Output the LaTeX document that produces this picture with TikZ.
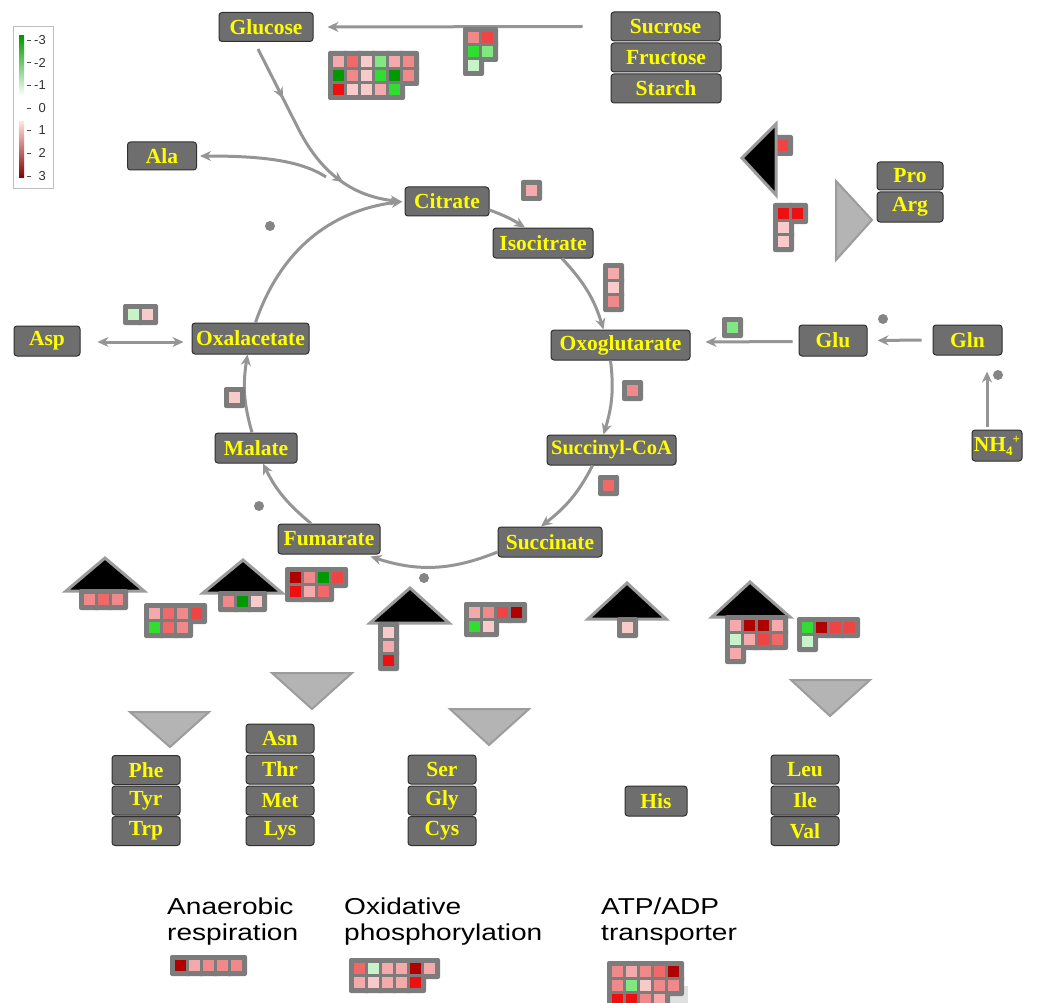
\documentclass[tikz,border=0pt]{standalone}
\usepackage{fontspec}
\setmainfont{Liberation Serif}
\newfontfamily\lsans{Liberation Sans}
\newfontfamily\lsanswide[FakeStretch=1.22]{Liberation Sans}
\usetikzlibrary{arrows.meta,calc,decorations.markings}
\definecolor{nodegray}{HTML}{6E6E6E}
\definecolor{nodeedge}{HTML}{303030}
\definecolor{txtyellow}{HTML}{FFFF00}
\definecolor{linegray}{HTML}{959595}
\definecolor{boxgray}{HTML}{7C7C7C}
\definecolor{trigray}{HTML}{B4B4B4}
\definecolor{triedge}{HTML}{9C9C9C}
\definecolor{dotgray}{HTML}{858585}
\definecolor{eDR}{HTML}{B00000}
\definecolor{eR}{HTML}{EE1010}
\definecolor{eRt}{HTML}{F04444}
\definecolor{ePR}{HTML}{F06868}
\definecolor{eP}{HTML}{F08A8A}
\definecolor{eLP}{HTML}{F4AAAA}
\definecolor{eVLP}{HTML}{F8CACA}
\definecolor{eDG}{HTML}{009A00}
\definecolor{eG}{HTML}{30DD30}
\definecolor{eLG}{HTML}{80E880}
\definecolor{eVLG}{HTML}{C8F2C8}
\newcommand{\egrid}[3]{%
  \foreach \erow [count=\ei from 0] in {#3} {%
    \foreach \ecol [count=\ej from 0] in \erow {%
      \fill[boxgray, rounded corners=2pt] ({#1+\ej*14},{-#2-\ei*14}) rectangle ++(21,-21);
    }%
  }%
  \foreach \erow [count=\ei from 0] in {#3} {%
    \foreach \ecol [count=\ej from 0] in \erow {%
      \fill[\ecol] ({#1+5+\ej*14},{-#2-5-\ei*14}) rectangle ++(11,-11);
    }%
  }%
}
\tikzset{
  met/.style={draw=nodeedge, fill=nodegray, rounded corners=3pt, line width=1pt,
    text=txtyellow, font=\bfseries\fontsize{21.5}{24}\selectfont, inner sep=0pt,
    minimum height=29pt, minimum width=68pt},
  flow/.style={draw=linegray, line width=3pt, -{Stealth[length=11pt,width=10pt]}},
  midarrow/.style={postaction={decorate, decoration={markings,
    mark=at position #1 with {\arrow{Stealth[length=11pt,width=10pt]}}}}},
  blacktri/.style={fill=black, draw=triedge, line width=3pt},
  graytri/.style={fill=trigray, draw=triedge, line width=2pt},
  dotnode/.style={circle, fill=dotgray, inner sep=0pt, minimum size=10pt},
  legtext/.style={font=\lsanswide\fontsize{23}{26}\selectfont, align=left, inner sep=0pt, anchor=north west},
  ticklab/.style={font=\lsans\fontsize{13}{13}\selectfont, text=black!80, inner sep=0pt, anchor=east}
}
\begin{document}
\begin{tikzpicture}[x=1pt,y=1pt]
\useasboundingbox (0,0) rectangle (1057,-1003);
\fill[white] (0,0) rectangle (1057,-1003);

% colour scale
\draw[black!25, line width=0.8pt] (13,-26) rectangle (53,-188);
\shade[top color=eDG, bottom color=white] (19,-36) rectangle (24,-96);
\shade[top color=red!12, middle color=red!90!black, bottom color=red!50!black] (19,-122) rectangle (24,-178);
\foreach \v/\yy [count=\i] in {-3/40,-2/62.5,-1/85,0/108,1/130.5,2/153,3/176} {
  \draw[black!70, line width=0.8pt] (27,-\yy) -- (31,-\yy);
  \node[ticklab] (tick\i) at (46,-\yy) {\v};
}

% metabolite nodes
\node[met, minimum width=94pt] (glucose) at (266,-27) {Glucose};
\node[met, minimum width=109pt] (sucrose) at (665.5,-26.5) {Sucrose};
\node[met, minimum width=110pt] (fructose) at (666,-57.5) {Fructose};
\node[met, minimum width=110pt] (starch) at (666,-88.5) {Starch};
\node[met, minimum width=69pt, minimum height=28pt] (ala) at (162,-156) {Ala};
\node[met, minimum width=84pt] (citrate) at (447,-201.5) {Citrate};
\node[met, minimum width=100pt, minimum height=30pt] (isocitrate) at (543,-243) {Isocitrate};
\node[met, minimum width=139pt, minimum height=30pt] (oxo) at (620.5,-345) {Oxoglutarate};
\node[met, minimum width=129pt, minimum height=30pt, font=\bfseries\fontsize{20.5}{24}\selectfont] (succ) at (611.5,-450) {Succinyl-CoA};
\node[met, minimum width=104pt, minimum height=30pt] (succinate) at (550,-542) {Succinate};
\node[met, minimum width=102pt, minimum height=30pt] (fumarate) at (329,-539) {Fumarate};
\node[met, minimum width=82pt, minimum height=30pt] (malate) at (256,-448) {Malate};
\node[met, minimum width=117pt, minimum height=31pt] (oxal) at (250.5,-338.5) {Oxalacetate};
\node[met, minimum width=66pt, minimum height=30pt] (asp) at (47,-341) {Asp};
\node[met, minimum width=68pt, minimum height=31pt] (glu) at (833,-340.5) {Glu};
\node[met, minimum width=69pt, minimum height=30pt] (gln) at (967.5,-340) {Gln};
\node[met, minimum width=50pt, minimum height=31pt] (nh4) at (997,-445.5)
  {NH\raisebox{-4pt}{\fontsize{13}{13}\selectfont 4}\raisebox{8pt}{\fontsize{13}{13}\selectfont +}};
\node[met, minimum width=66pt, minimum height=28pt] (pro) at (910,-176) {Pro};
\node[met, minimum width=66pt, minimum height=30pt] (arg) at (910,-207) {Arg};
\node[met] (phe) at (146,-770) {Phe};
\node[met] (tyr) at (146,-800.5) {Tyr};
\node[met] (trp) at (146,-831) {Trp};
\node[met] (asn) at (280,-738.5) {Asn};
\node[met] (thr) at (280,-769.5) {Thr};
\node[met] (metn) at (280,-800.5) {Met};
\node[met] (lys) at (280,-831) {Lys};
\node[met] (ser) at (442,-769.5) {Ser};
\node[met] (gly) at (442,-800.5) {Gly};
\node[met] (cys) at (442,-831) {Cys};
\node[met, minimum width=62pt, minimum height=30pt] (his) at (656,-801) {His};
\node[met] (leu) at (805,-769.5) {Leu};
\node[met] (ile) at (805,-800.5) {Ile};
\node[met] (val) at (805,-831) {Val};

% connectors
\coordinate (gbend) at (298,-128);
\coordinate (alam) at (326,-177);
\draw[flow, midarrow=0.25, midarrow=0.72] ($(glucose.south)+(-8,-7)$) -- (gbend)
  .. controls (316,-164) and (345,-196) .. ($(citrate.west)+(-3,0)$);
\draw[flow] (alam) .. controls (300,-160) and (260,-156) .. ($(ala.east)+(3,0)$);
\draw[flow] ($(sucrose.west)+(-28,0)$) -- ($(glucose.east)+(14,0)$);
\draw[flow] ($(oxal.north)+(5,0)$) to[out=71,in=187] ($(citrate.west)+(-2,0)$);
\draw[flow] ($(citrate.east)+(0,-8.5)$) to[out=-20,in=148] ($(isocitrate.north)+(-18,0)$);
\draw[flow] ($(isocitrate.south)+(19,0)$) to[out=-47,in=107] ($(oxo.north)+(-17,0)$);
\draw[flow] ($(oxo.south)+(-10,0)$) to[out=-83,in=73] ($(succ.north)+(-8,0)$);
\draw[flow] ($(succ.south)+(-19,0)$) to[out=-117,in=38] ($(succinate.north)+(-9,0)$);
\draw[flow] ($(succinate.west)+(0,-10)$) to[out=202,in=-18] ($(fumarate.south east)+(-10,-2)$);
\draw[flow] ($(fumarate.north)+(-18,0)$) to[out=140,in=-64] ($(malate.south)+(7,0)$);
\draw[flow] ($(malate.north)+(-4,0)$) to[out=106,in=-99] ($(oxal.south)+(-3,0)$);
\draw[flow, {Stealth[length=11pt,width=10pt]}-{Stealth[length=11pt,width=10pt]}]
  ($(asp.east)+(17,-1)$) -- ($(oxal.west)+(-8,-3.5)$);
\draw[flow] ($(glu.west)+(-6,-1)$) -- ($(oxo.east)+(15,3)$);
\draw[flow] ($(gln.west)+(-11,0)$) -- ($(glu.east)+(10,0)$);
\draw[flow] ($(nh4.north)+(-10,3)$) -- ($(nh4.north)+(-10,58)$);

% dots
\node[dotnode] (dot1) at (270,-226) {};
\node[dotnode] (dot2) at (259,-506) {};
\node[dotnode] (dot3) at (424,-578) {};
\node[dotnode] (dot4) at (883,-319) {};
\node[dotnode] (dot5) at (998,-375) {};

% enzyme grids in the pathway
\egrid{328}{51}{{eLP,ePR,eVLP,eLG,eLP,eP},{eDG,eP,eVLP,eG,eDG,eP},{eR,eVLP,eVLP,eLP,eG}}
\egrid{463}{27}{{eP,eRt},{eG,eLG},{eVLG}}
\egrid{521}{180}{{eLP}}
\egrid{603}{263}{{eLP},{eVLP},{eP}}
\egrid{622}{380}{{eP}}
\egrid{598}{475}{{ePR}}
\egrid{224}{387}{{eVLP}}
\egrid{722}{317}{{eLG}}
\egrid{123}{304}{{eVLG,eVLP}}

% Pro / Arg area
\egrid{772}{135}{{eRt}}
\draw[blacktri] (742,-158) -- (776,-124) -- (776,-195) -- cycle;
\egrid{773}{203}{{eR,eR},{eVLP},{eVLP}}
\draw[graytri] (836,-181) -- (872,-220) -- (836,-260) -- cycle;

% bottom: houses and grids
\draw[blacktri] (66,-591) -- (144,-591) -- (105,-558) -- cycle;
\egrid{79}{589}{{eP,ePR,eP}}
\egrid{144}{603}{{eLP,ePR,eP,eRt},{eG,ePR,eP}}
\draw[blacktri] (203,-593) -- (282,-593) -- (243,-560) -- cycle;
\egrid{218}{591}{{eP,eDG,eVLP}}
\egrid{285}{567}{{eDR,eP,eDG,eRt},{eR,eLP,ePR}}
\draw[blacktri] (370,-623) -- (449,-623) -- (410,-588) -- cycle;
\egrid{378}{622}{{eVLP},{eLP},{eR}}
\egrid{464}{602}{{eLP,eP,eRt,eDR},{eG,eVLP}}
\draw[blacktri] (588,-619) -- (666,-619) -- (627,-583) -- cycle;
\egrid{617}{617}{{eVLP}}
\draw[blacktri] (712,-617) -- (790,-617) -- (750,-582) -- cycle;
\egrid{725}{615}{{eLP,eDR,eDR,eLP},{eVLG,eLP,eRt,ePR},{eLP}}
\egrid{797}{617}{{eG,eDR,eRt,eRt},{eVLG}}

% gray down triangles
\draw[graytri] (130,-712) -- (209,-712) -- (170,-747) -- cycle;
\draw[graytri] (272,-673) -- (352,-673) -- (312,-709) -- cycle;
\draw[graytri] (450,-709) -- (529,-709) -- (489,-745) -- cycle;
\draw[graytri] (791,-680) -- (870,-680) -- (830,-716) -- cycle;

% bottom legend
\node[legtext] (tanaer) at (167,-898) {Anaerobic\\respiration};
\node[legtext] (toxid) at (344,-898) {Oxidative\\phosphorylation};
\node[legtext] (tatp) at (601,-898) {ATP/ADP\\transporter};
\egrid{170}{955}{{eDR,eLP,eP,eP,eP}}
\egrid{349}{958}{{ePR,eVLG,eLP,eLP,eDR,eLP},{eLP,eVLP,eLP,eLP,eR}}
\fill[black!12] (665,-986) rectangle (688,-1003);
\egrid{607}{961}{{eP,eLP,eP,ePR,eDR},{eP,eLG,eVLP,eP,eP},{eR,eR,eP,eLP}}
\end{tikzpicture}
\end{document}
